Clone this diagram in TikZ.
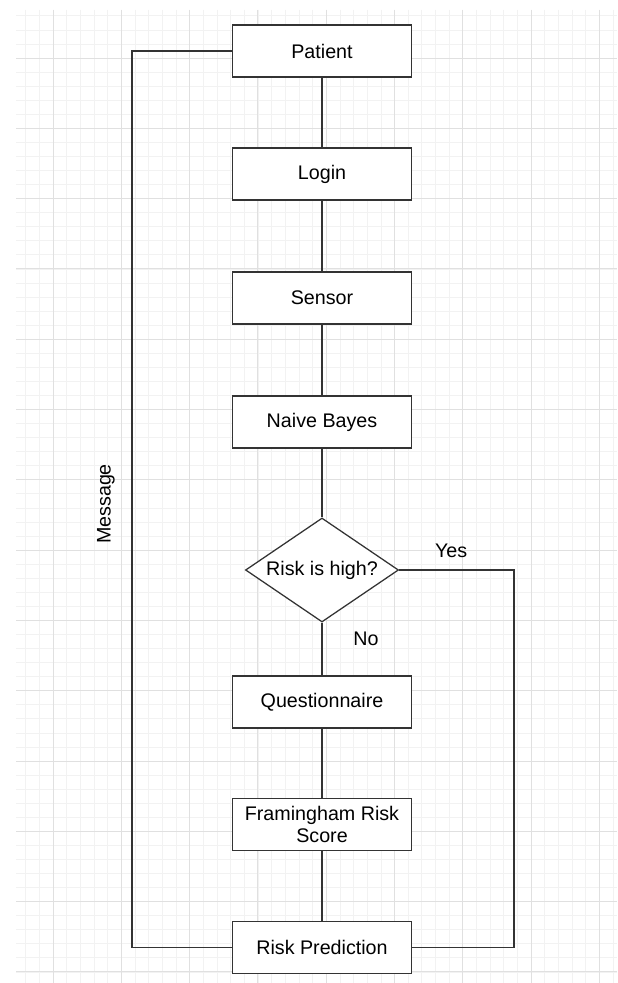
\documentclass[tikz,border=0pt]{standalone}
\usepackage{fontspec}
\setmainfont{Liberation Sans}
\usepackage{tikz}
\usetikzlibrary{calc,shapes.geometric}
\def\drawwire{\draw[color=black!80, line width=0.9pt]}
\def\drawgrid{\draw[color=black!5, line width=0.5pt]}
\def\drawmajor{\draw[color=black!12, line width=0.6pt]}
\def\stepnode{\node[rectangle,draw=black!80,fill=white,line width=0.9pt,minimum width=4.475cm,minimum height=1.3cm,inner sep=0pt,align=center]}
\def\asknode{\node[diamond,draw=black!80,fill=white,line width=0.9pt,minimum width=3.825cm,minimum height=2.6cm,inner sep=0pt]}

\begin{document}
\begin{tikzpicture}[x=0.025cm,y=-0.025cm,font=\fontsize{14}{17}\selectfont]
\useasboundingbox (0,0) rectangle (617,983);
\fill[white] (0,0) rectangle (617,983);

% background grid
\foreach \i in {0,...,43} {
  \pgfmathsetmacro\gx{25.7+13.66*\i}
  \drawgrid (\gx,10) -- (\gx,983);
}
\foreach \j in {0,...,68} {
  \pgfmathsetmacro\gy{15.8+14.06*\j}
  \drawgrid (16,\gy) -- (617,\gy);
}
\foreach \i in {0,...,8} {
  \pgfmathsetmacro\gx{53+68.3*\i}
  \drawmajor (\gx,10) -- (\gx,983);
}
\foreach \j in {0,...,13} {
  \pgfmathsetmacro\gy{58+70.3*\j}
  \drawmajor (16,\gy) -- (617,\gy);
}

\coordinate (o) at (322,51);
\stepnode (patient) at (o) {Patient}; % boxes are relative to (o)
\stepnode (login) at ($ (o) + (0,123) $) {Login};
\stepnode (sensor) at ($ (o) + (0,247) $) {Sensor};
\stepnode (bayes) at ($ (o) + (0,371) $) {Naive Bayes};
\asknode[label=center:{Risk is high?}] (risk) at ($ (o) + (0,519) $) {};
\stepnode (quest) at ($ (o) + (0,651) $) {Questionnaire};
\stepnode (fram) at ($ (o) + (0,773.5) $) {Framingham Risk\\[-1pt]Score};
\stepnode (pred) at ($ (o) + (0,896.5) $) {Risk Prediction};

% main column
\drawwire (patient) -- (login);
\drawwire (login) -- (sensor);
\drawwire (sensor) -- (bayes);
\drawwire (bayes) -- (risk.north);
\drawwire (risk.south) -- (quest);
\drawwire (quest) -- (fram);
\drawwire (fram) -- (pred);

% Yes branch and message loop
\coordinate (left_top) at ($ (o) + (-190,0) $);
\coordinate (left_bot) at ($ (pred) + (-190,0) $);
\coordinate (right_top) at ($ (risk) + (192,0) $);
\coordinate (right_bot) at ($ (pred) + (192,0) $);
\drawwire (risk.east) -- (right_top) -- (right_bot) -- (pred.east);
\drawwire (pred.west) -- (left_bot) -- (left_top) -- (patient.west);

\node (yes) at ($ (risk.east) + (52,-19) $) {Yes};
\node (no) at ($ (risk.south) + (44,16) $) {No};
\node[rotate=90] (msg) at ($ (left_top) + (-26,453) $) {Message};
\end{tikzpicture}
\end{document}
